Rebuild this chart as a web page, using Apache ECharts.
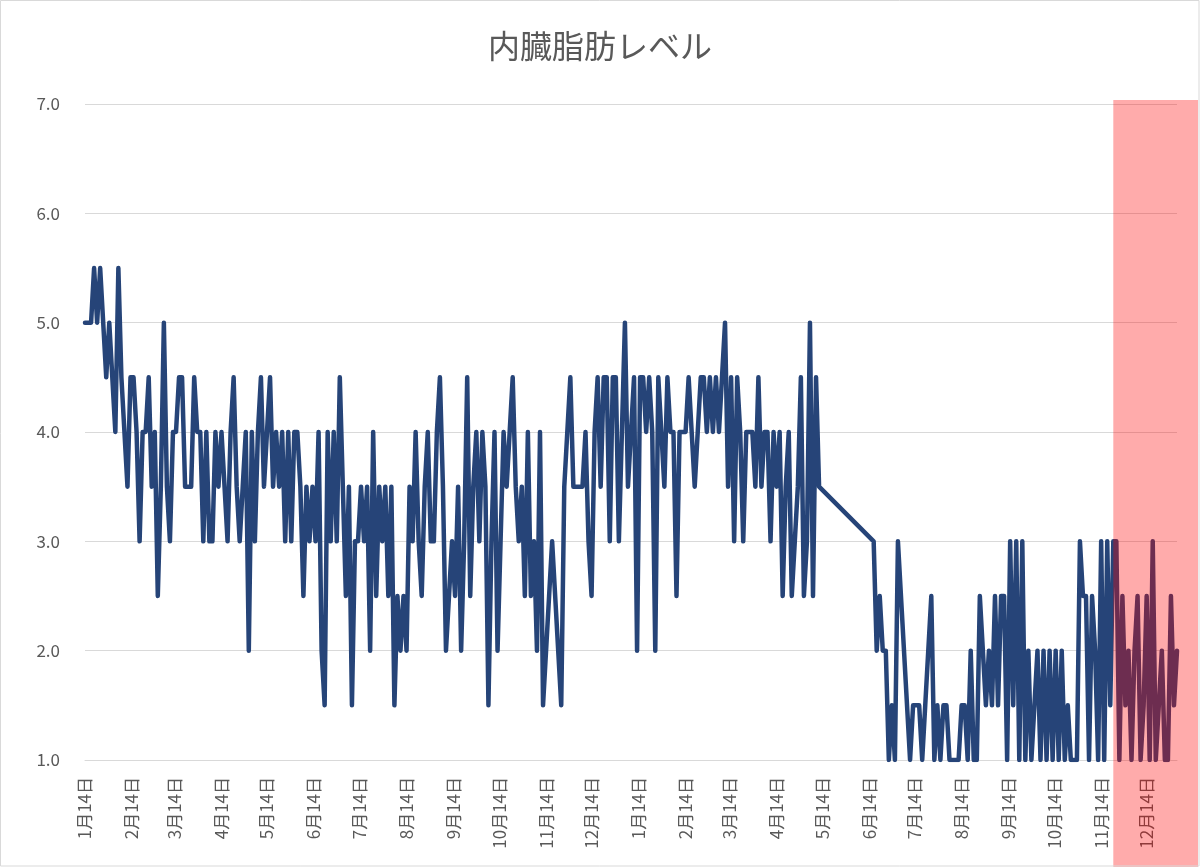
<!DOCTYPE html>
<html>
<head>
<meta charset="utf-8">
<script src="https://cdn.jsdelivr.net/npm/echarts@6/dist/echarts.min.js"></script>
<style>
html,body{margin:0;padding:0;background:#ffffff;}
#chart{width:1200px;height:867px;}
</style>
</head>
<body>
<div id="chart"></div>
<script>
// ---------- data ----------
const chartTitle = '内臓脂肪レベル';
const startDate = '2019-01-14';      // first day on the date axis
const dayCount = 721;                // 2019-01-14 .. 2021-01-03
const sampleStep = 2;                // one reading every 2 days

// readings from 2019-01-14 (day 0)
const part1StartDay = 0;
const levelsPart1 = [
  5.0,5.0,5.0,5.5,5.0,5.5,5.0,4.5,5.0,4.5,
  4.0,5.5,4.5,4.0,3.5,4.5,4.5,4.0,3.0,4.0,
  4.0,4.5,3.5,4.0,2.5,3.5,5.0,3.5,3.0,4.0,
  4.0,4.5,4.5,3.5,3.5,3.5,4.5,
  4.0,4.0,3.0,4.0,3.0,3.0,4.0,3.5,4.0,3.5,
  3.0,4.0,4.5,3.5,3.0,3.5,4.0,2.0,4.0,3.0,
  4.0,4.5,3.5,4.0,4.5,3.5,4.0,3.5,4.0,3.0,
  4.0,3.0,4.0,4.0,3.5,2.5,
  3.5,3.0,3.5,3.0,4.0,2.0,1.5,4.0,
  3.0,4.0,3.0,4.5,3.5,2.5,3.5,1.5,3.0,3.0,
  3.5,3.0,3.5,2.0,4.0,2.5,3.5,3.0,3.5,2.5,
  3.5,1.5,2.5,2.0,2.5,2.0,3.5,3.0,4.0,
  3.0,2.5,3.5,4.0,3.0,3.0,4.0,4.5,3.5,2.0,
  2.5,3.0,2.5,3.5,2.0,3.0,4.5,2.5,3.5,4.0,
  3.0,4.0,3.5,1.5,3.0,4.0,2.0,3.0,4.0,3.5,
  4.0,4.5,3.5,3.0,3.5,2.5,
  4.0,2.5,3.0,2.0,4.0,1.5,2.0,2.5,3.0,2.5,
  2.0,1.5,3.5,4.0,4.5,3.5,3.5,3.5,3.5,4.0,
  3.0,2.5,4.0,4.5,3.5,4.5,4.5,3.0,4.5,4.5,
  3.0,4.0,5.0,3.5,4.0,4.5,2.0
];

// readings from 2020-01-15 (day 366); null = no reading that day
const part2StartDay = 366;
const levelsPart2 = [
  4.5,4.5,4.0,4.5,4.0,2.0,4.5,4.0,3.5,4.5,
  4.0,4.0,2.5,4.0,4.0,4.0,4.5,4.0,3.5,4.0,
  4.5,4.5,4.0,4.5,4.0,4.5,4.0,4.5,5.0,3.5,
  4.5,3.0,4.5,4.0,3.0,4.0,
  4.0,4.0,3.5,4.5,3.5,4.0,4.0,3.0,4.0,3.5,
  4.0,2.5,3.5,4.0,2.5,3.0,3.5,4.5,2.5,3.0,
  5.0,2.5,4.5,3.5,
  null,null,null,null,null,null,null,null,null,null,null,null,null,null,null,null,null,
  3.0,2.0,2.5,2.0,2.0,1.0,1.5,1.0,3.0,
  null,null,null,
  1.0,1.5,1.5,1.5,1.0,1.5,2.0,2.5,1.0,1.5,
  1.0,1.5,1.5,1.0,1.0,1.0,1.0,1.5,1.5,
  1.0,2.0,1.0,1.0,2.5,2.0,1.5,2.0,1.5,2.5,
  1.5,2.5,2.5,1.0,3.0,1.5,3.0,1.0,3.0,1.0,
  2.0,1.0,1.5,2.0,1.0,2.0,1.0,2.0,1.0,2.0,
  1.0,2.0,1.0,1.5,1.0,1.0,1.0,
  3.0,2.5,2.5,1.0,2.5,2.0,1.0,3.0,1.0,3.0,
  1.5,3.0,3.0,1.0,2.5,1.5,2.0,1.0,2.0,2.5,
  1.0,1.5,2.5,1.0,3.0,1.0,1.5,2.0,1.0,1.0,
  2.5,1.5,2.0
];

const yMin = 1, yMax = 7, yInterval = 1;
const highlightFrom = '2020-11-22';   // start of the pink band

// ---------- build ----------
function pad(n){ return (n < 10 ? '0' : '') + n; }
const categories = [];
(function(){
  const p = startDate.split('-').map(Number);
  const t0 = Date.UTC(p[0], p[1]-1, p[2]);
  for (let i = 0; i < dayCount; i++) {
    const d = new Date(t0 + i * 86400000);
    categories.push(d.getUTCFullYear() + '-' + pad(d.getUTCMonth()+1) + '-' + pad(d.getUTCDate()));
  }
})();
const lineData = new Array(dayCount).fill(null);
levelsPart1.forEach((v, k) => { const idx = part1StartDay + k * sampleStep; if (idx < dayCount) lineData[idx] = v; });
levelsPart2.forEach((v, k) => { const idx = part2StartDay + k * sampleStep; if (idx < dayCount) lineData[idx] = v; });

const FONT = '"Noto Sans CJK JP", "Noto Sans", sans-serif';
const GRID = {left: 85, right: 23, top: 104, bottom: 107};

const chart = echarts.init(document.getElementById('chart'), null, {renderer: 'canvas'});
chart.setOption({
  animation: false,
  backgroundColor: '#ffffff',
  title: {
    text: chartTitle, left: 'center', top: 25,
    textStyle: {fontFamily: FONT, fontSize: 32, fontWeight: 'normal', color: '#595959'}
  },
  grid: GRID,
  xAxis: {
    type: 'category',
    data: categories,
    boundaryGap: false,
    axisLine: {show: true, lineStyle: {color: '#d9d9d9', width: 1}},
    axisTick: {show: false},
    splitLine: {show: false},
    axisLabel: {
      interval: function(index, value){ return value.slice(8) === '14'; },
      rotate: 90,
      margin: 17,
      fontFamily: FONT, fontSize: 17, color: '#595959',
      formatter: function(value){ const p = value.split('-'); return (+p[1]) + '月' + (+p[2]) + '日'; }
    }
  },
  yAxis: {
    type: 'value', min: yMin, max: yMax, interval: yInterval,
    axisLine: {show: false}, axisTick: {show: false},
    splitLine: {lineStyle: {color: '#d9d9d9', width: 1}},
    axisLabel: {
      margin: 25, fontFamily: FONT, fontSize: 17, color: '#595959',
      formatter: function(v){ return v.toFixed(1); }
    }
  },
  series: [{
    type: 'line',
    data: lineData,
    connectNulls: true,
    showSymbol: false,
    symbol: 'none',
    lineStyle: {color: '#264478', width: 4.5, join: 'round', cap: 'round'},
    itemStyle: {color: '#264478'}
  }]
});

const bandX = chart.convertToPixel({xAxisIndex: 0}, highlightFrom);
const W = 1200, H = 867;
chart.setOption({
  graphic: [
    {type: 'rect', z: 100, silent: true,
     shape: {x: bandX, y: GRID.top - 4, width: (W - 2) - bandX, height: H - (GRID.top - 4)},
     style: {fill: 'rgba(255,0,0,0.33)'}},
    {type: 'rect', z: 101, silent: true,
     shape: {x: 0.5, y: 0.5, width: W - 1.5, height: H - 1.5},
     style: {fill: 'none', stroke: '#d9d9d9', lineWidth: 1}}
  ]
});
</script>
</body>
</html>
